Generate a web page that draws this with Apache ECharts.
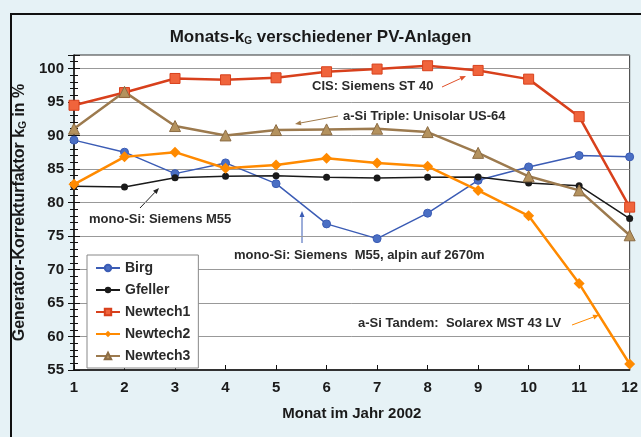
<!DOCTYPE html>
<html>
<head>
<meta charset="utf-8">
<script src="https://cdn.jsdelivr.net/npm/echarts@6/dist/echarts.min.js"></script>
<style>
  html, body { margin: 0; padding: 0; background: #e6f2f6; }
  #chart { width: 641px; height: 437px; }
</style>
</head>
<body>
<div id="chart"></div>
<script>
// Monate
var months = ['1', '2', '3', '4', '5', '6', '7', '8', '9', '10', '11', '12'];
// Werte in %
var birg     = [89.3, 87.5, 84.3, 85.9, 82.8, 76.8, 74.6, 78.4, 83.3, 85.3, 87.0, 86.8];
var gfeller  = [82.4, 82.3, 83.7, 83.9, 84.0, 83.75, 83.65, 83.75, 83.8, 82.9, 82.5, 77.6];
var newtech1 = [94.5, 96.4, 98.5, 98.3, 98.6, 99.5, 99.9, 100.4, 99.7, 98.4, 92.8, 79.3];
var newtech2 = [82.7, 86.8, 87.5, 85.1, 85.6, 86.6, 85.9, 85.4, 81.8, 78.0, 67.9, 55.9];
var newtech3 = [91.0, 96.5, 91.4, 90.0, 90.8, 90.9, 91.0, 90.5, 87.4, 83.9, 81.8, 75.1];

var font = 'Liberation Sans, Arial, sans-serif';

// Pfeil fuer die Beschriftungen
function arrow(x1, y1, x2, y2, color) {
  var a = Math.atan2(y2 - y1, x2 - x1);
  var L = 6, W = 2.5;
  var bx = x2 - L * Math.cos(a), by = y2 - L * Math.sin(a);
  return {
    type: 'group',
    children: [
      {type: 'line', shape: {x1: x1, y1: y1, x2: bx, y2: by}, style: {stroke: color, lineWidth: 1}},
      {type: 'polygon', shape: {points: [[x2, y2],
        [bx + W * Math.sin(a), by - W * Math.cos(a)],
        [bx - W * Math.sin(a), by + W * Math.cos(a)]]}, style: {fill: color}}
    ]
  };
}
function note(x, y, text) {
  return {type: 'text', left: x, top: y,
    style: {text: text, font: 'bold 13px ' + font, fill: '#2a2a2a'}};
}

var myChart = echarts.init(document.getElementById('chart'));

var yBase = {
  type: 'value', min: 55, max: 102, interval: 5
};

var option = {
  backgroundColor: '#e6f2f6',
  animation: false,
  title: {
    text: '{a|Monats-k}{s|G}{a| verschiedener PV-Anlagen}',
    left: 'center',
    top: 21,
    textStyle: {
      rich: {
        a: {fontSize: 17, fontWeight: 'bold', fontFamily: font, color: '#1a1a1a', lineHeight: 22},
        s: {fontSize: 10, fontWeight: 'bold', fontFamily: font, color: '#1a1a1a', lineHeight: 22, padding: [8, 0, 0, 0]}
      }
    }
  },
  legend: {
    orient: 'vertical',
    left: 87,
    top: 255,
    itemWidth: 24,
    itemHeight: 8,
    itemGap: 8,
    padding: [6, 8, 5, 8],
    backgroundColor: '#fff',
    borderColor: '#888',
    borderWidth: 1,
    textStyle: {fontSize: 14, fontWeight: 'bold', fontFamily: font, color: '#2a2a2a'},
    data: ['Birg', 'Gfeller', 'Newtech1', 'Newtech2', 'Newtech3']
  },
  grid: {
    left: 74, right: 3, top: 55, bottom: 67,
    show: true,
    backgroundColor: '#fff',
    borderColor: '#333',
    borderWidth: 1
  },
  xAxis: {
    type: 'category',
    data: months,
    boundaryGap: false,
    name: 'Monat im Jahr 2002',
    nameLocation: 'middle',
    nameGap: 36,
    nameTextStyle: {fontSize: 15, fontWeight: 'bold', fontFamily: font, color: '#1a1a1a'},
    axisLine: {lineStyle: {color: '#111', width: 1.5}},
    axisTick: {inside: true, length: 5, lineStyle: {color: '#111'}},
    axisLabel: {fontSize: 15, fontWeight: 'bold', fontFamily: font, color: '#1a1a1a', margin: 10},
    splitLine: {show: false}
  },
  yAxis: [
    Object.assign({}, yBase, {
      name: '{a|Generator-Korrekturfaktor k}{s|G}{a| in %}',
      nameLocation: 'middle',
      nameGap: 36,
      nameTextStyle: {
        rich: {
          a: {fontSize: 16, fontWeight: 'bold', fontFamily: font, color: '#1a1a1a', lineHeight: 20},
          s: {fontSize: 10, fontWeight: 'bold', fontFamily: font, color: '#1a1a1a', lineHeight: 20, padding: [7, 0, 0, 0]}
        }
      },
      axisLine: {show: true, lineStyle: {color: '#111', width: 1.5}},
      axisTick: {show: true, length: 6, lineStyle: {color: '#111'}},
      minorTick: {show: true, splitNumber: 5, length: 4, lineStyle: {color: '#111'}},
      axisLabel: {fontSize: 15, fontWeight: 'bold', fontFamily: font, color: '#1a1a1a', margin: 10, showMaxLabel: false},
      splitLine: {lineStyle: {color: '#999', width: 1}}
    }),
    // zweite Achse nur fuer die nach innen zeigenden Striche
    Object.assign({}, yBase, {
      position: 'left',
      axisLine: {show: false},
      axisTick: {show: true, inside: true, length: 6, lineStyle: {color: '#111'}},
      minorTick: {show: true, splitNumber: 5, length: 4, lineStyle: {color: '#111'}},
      axisLabel: {show: false},
      splitLine: {show: false}
    })
  ],
  series: [
    {
      name: 'Birg', type: 'line', data: birg,
      symbol: 'circle', symbolSize: 8,
      lineStyle: {color: '#3b5cb5', width: 1.5},
      itemStyle: {color: '#4a6fc4', borderColor: '#3b5cb5', borderWidth: 1}
    },
    {
      name: 'Gfeller', type: 'line', data: gfeller,
      symbol: 'circle', symbolSize: 7,
      lineStyle: {color: '#1a1a1a', width: 1.5},
      itemStyle: {color: '#1a1a1a'}
    },
    {
      name: 'Newtech1', type: 'line', data: newtech1,
      symbol: 'rect', symbolSize: 10,
      lineStyle: {color: '#d8401c', width: 2.5},
      itemStyle: {color: '#f0643c', borderColor: '#d8401c', borderWidth: 1}
    },
    {
      name: 'Newtech2', type: 'line', data: newtech2,
      symbol: 'diamond', symbolSize: 11,
      lineStyle: {color: '#ff8a00', width: 2.5},
      itemStyle: {color: '#ff8a00'}
    },
    {
      name: 'Newtech3', type: 'line', data: newtech3,
      symbol: 'triangle', symbolSize: 11,
      lineStyle: {color: '#9c7a4e', width: 2.5},
      itemStyle: {color: '#b4925e', borderColor: '#8c6c44', borderWidth: 1}
    }
  ],
  graphic: [
    {type: 'rect', shape: {x: 11, y: 14, width: 700, height: 500},
      style: {fill: null, stroke: '#111', lineWidth: 2}, z: -1},
    note(312, 80, 'CIS: Siemens ST 40'),
    arrow(442, 87, 466, 76, '#e0502a'),
    note(343, 110, 'a-Si Triple: Unisolar US-64'),
    arrow(338, 116, 295, 124, '#a07a4a'),
    note(89, 213, 'mono-Si: Siemens M55'),
    arrow(140, 208, 159, 188, '#222'),
    note(234, 249, 'mono-Si: Siemens  M55, alpin auf 2670m'),
    arrow(302, 243, 302, 211, '#3b5cb5'),
    note(358, 317, 'a-Si Tandem:  Solarex MST 43 LV'),
    arrow(572, 325, 599, 315, '#ff8a00')
  ]
};

myChart.setOption(option);
</script>
</body>
</html>
